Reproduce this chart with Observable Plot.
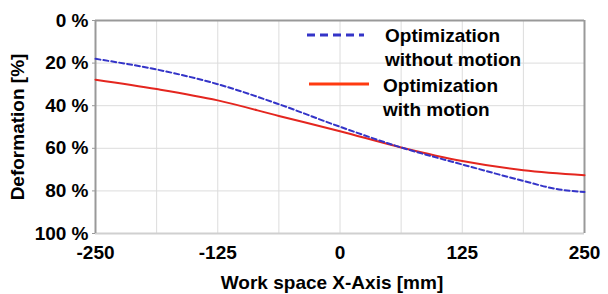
<!DOCTYPE html>
<html>
<head>
<meta charset="utf-8">
<script src="https://cdn.jsdelivr.net/npm/d3@7"></script>
<script src="https://cdn.jsdelivr.net/npm/@observablehq/plot@0.6"></script>
<style>
  html, body { margin: 0; padding: 0; background: #fff; }
  #wrap { position: relative; width: 608px; height: 294px; font-family: "Liberation Sans", Arial, sans-serif; }
  .leg { position: absolute; font-weight: bold; font-size: 19px; line-height: 24px; color: #000; }
  .sw { position: absolute; }
</style>
</head>
<body>
<div id="wrap"></div>
<script>
const seriesNames = ["Optimization without motion", "Optimization with motion"];
const xTitle = "Work space X-Axis [mm]";
const yTitle = "Deformation [%]";
const xWithout = [-250, -187.5, -125, -62.5, 0, 62.5, 125, 187.5, 220, 250];
const yWithout = [18, 23, 29.9, 39.3, 49.9, 59.6, 67.6, 75.3, 79, 80.5];
const xWith = [-250, -187.5, -125, -62.5, 0, 62.5, 125, 187.5, 250];
const yWith = [27.8, 32.2, 37.5, 44.8, 52, 59.6, 66, 70.3, 72.6];
const xTicks = [-250, -125, 0, 125, 250];
const xGrid = [-250, -187.5, -125, -62.5, 0, 62.5, 125, 187.5, 250];
const yTicks = [0, 20, 40, 60, 80, 100];
const colors = ["#3434c8", "#e4261f"];

const dWithout = xWithout.map((x, i) => ({x, y: yWithout[i]}));
const dWith = xWith.map((x, i) => ({x, y: yWith[i]}));

const chart = Plot.plot({
  width: 608,
  height: 294,
  marginLeft: 95,
  marginRight: 24,
  marginTop: 20,
  marginBottom: 61,
  style: {fontFamily: "'Liberation Sans', Arial, sans-serif", fontSize: "19px", fontWeight: "bold", color: "#000", background: "#fff"},
  x: {domain: [-250, 250]},
  y: {domain: [0, 100], reverse: true},
  marks: [
    Plot.gridX(xGrid, {stroke: "#dcdcdc", strokeOpacity: 1, strokeWidth: 1}),
    Plot.gridY(yTicks, {stroke: "#dcdcdc", strokeOpacity: 1, strokeWidth: 1}),
    Plot.ruleY([0], {stroke: "#999", strokeWidth: 2}),
    Plot.ruleY([100], {stroke: "#d0d0d0", strokeWidth: 2}),
    Plot.ruleX([250], {stroke: "#999", strokeWidth: 2}),
    Plot.ruleX([-250], {stroke: "#999", strokeWidth: 2}),
    Plot.axisX(xTicks, {tickSize: 0, tickPadding: 12, tickFormat: d => String(d), fontSize: 19, fontWeight: "bold", label: null}),
    Plot.text([xTitle], {frameAnchor: "bottom", lineAnchor: "middle", dy: 49, dx: -8, fontSize: 19, fontWeight: "bold", fill: "#000"}),
    Plot.axisY(yTicks, {tickSize: 3, tickPadding: 4, stroke: "#999", tickFormat: d => d + " %", fontSize: 19, fontWeight: "bold", label: yTitle, labelAnchor: "center", labelOffset: 85, labelArrow: "none"}),
    Plot.line(dWith, {x: "x", y: "y", stroke: colors[1], strokeWidth: 2, curve: "monotone-x"}),
    Plot.line(dWithout, {x: "x", y: "y", stroke: colors[0], strokeWidth: 2, strokeDasharray: "5,3", curve: "monotone-x"})
  ]
});
const wrap = document.getElementById("wrap");
wrap.appendChild(chart);

// legend
function addLegend(i, lineTop, textTop, lineLeft, lineW, textLeft, lines) {
  const sw = document.createElementNS("http://www.w3.org/2000/svg", "svg");
  sw.setAttribute("class", "sw");
  sw.setAttribute("width", lineW);
  sw.setAttribute("height", 6);
  sw.style.left = lineLeft + "px";
  sw.style.top = (lineTop - 3) + "px";
  const l = document.createElementNS("http://www.w3.org/2000/svg", "line");
  l.setAttribute("x1", 0); l.setAttribute("x2", lineW);
  l.setAttribute("y1", 3); l.setAttribute("y2", 3);
  l.setAttribute("stroke", i === 0 ? colors[0] : "#ff3a10");
  l.setAttribute("stroke-width", 3);
  if (i === 0) l.setAttribute("stroke-dasharray", "8,5");
  sw.appendChild(l);
  wrap.appendChild(sw);
  const t = document.createElement("div");
  t.className = "leg";
  t.style.left = textLeft + "px";
  t.style.top = textTop + "px";
  t.innerHTML = lines.join("<br>");
  wrap.appendChild(t);
}
addLegend(0, 35, 24, 307, 57, 385, ["Optimization", "without motion"]);
addLegend(1, 84, 74, 309, 60, 383, ["Optimization", "with motion"]);
</script>
</body>
</html>
